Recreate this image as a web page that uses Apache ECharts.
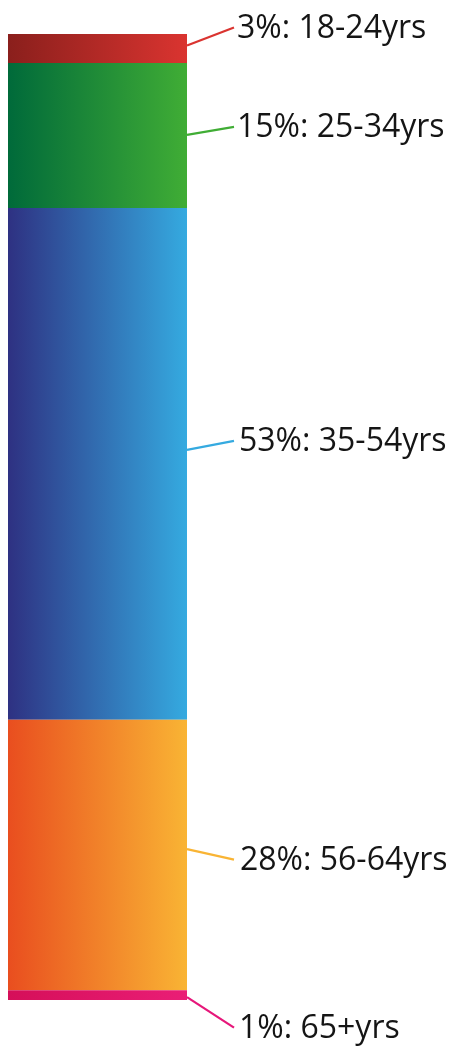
<!DOCTYPE html>
<html>
<head>
<meta charset="utf-8">
<script src="https://cdn.jsdelivr.net/npm/echarts@6/dist/echarts.min.js"></script>
<style>html,body{margin:0;padding:0;background:#fff}#c{width:462px;height:1046px}</style>
</head>
<body>
<div id="c"></div>
<script>
// Data
const ageGroups = ['18-24yrs', '25-34yrs', '35-54yrs', '56-64yrs', '65+yrs'];
const shares = [3, 15, 53, 28, 1];

// Styles
const gradStops = [
  ['#8a1f1c', '#da3430'],
  ['#006a3a', '#40ad35'],
  ['#2e3182', '#35aae0'],
  ['#e94e1f', '#f9b434'],
  ['#d50f59', '#ea1e76']
];
const lineColors = ['#da3430', '#40ad35', '#35aae0', '#f9b434', '#e6177a'];
// leader line: anchor offset on bar from segment middle, and end offset (px)
const anchorDy = [-3, -0.5, -14, -6, 2];
const endDy = [-21, -8.5, -23, 4.5, 32.5];
const textDx = [3, 3, 5, 6, 5];

// cumulative table for the label/leader series
const labelRows = [];
let acc = 0;
shares.forEach((v, i) => { labelRows.push([0, acc, acc + v, v, i]); acc += v; });

const chart = echarts.init(document.getElementById('c'));
const barSeries = ageGroups.map((g, i) => ({
  type: 'bar',
  name: g,
  stack: 'total',
  barWidth: '100%',
  data: [shares[i]],
  itemStyle: {
    color: new echarts.graphic.LinearGradient(0, 0, 1, 0, [
      { offset: 0, color: gradStops[i][0] },
      { offset: 1, color: gradStops[i][1] }
    ])
  }
}));

const labelSeries = {
  type: 'custom',
  data: labelRows,
  z: 10,
  renderItem: function (params, api) {
    const i = api.value(4);
    const top = api.coord([api.value(0), api.value(1)]);
    const bot = api.coord([api.value(0), api.value(2)]);
    const bw = api.size([1, 0])[0];
    const x0 = top[0] + bw / 2;
    const yMid = (top[1] + bot[1]) / 2;
    const ex = x0 + 47;
    const ey = yMid + endDy[i];
    return {
      type: 'group',
      children: [
        {
          type: 'line',
          shape: { x1: x0, y1: yMid + anchorDy[i], x2: ex, y2: ey },
          style: { stroke: lineColors[i], lineWidth: 2.2 }
        },
        {
          type: 'text',
          x: ex + textDx[i],
          y: ey + 1,
          style: {
            text: api.value(3) + '%: ' + ageGroups[i],
            fontFamily: 'Open Sans',
            fontSize: 32,
            fill: '#151515',
            align: 'left',
            verticalAlign: 'middle'
          }
        }
      ]
    };
  }
};

chart.setOption({
  animation: false,
  grid: { left: 8, right: 275, top: 34, bottom: 46 },
  xAxis: { type: 'category', data: ['Age'], show: false },
  yAxis: { type: 'value', min: 0, max: 100, inverse: true, show: false },
  series: barSeries.concat([labelSeries])
});
</script>
</body>
</html>
